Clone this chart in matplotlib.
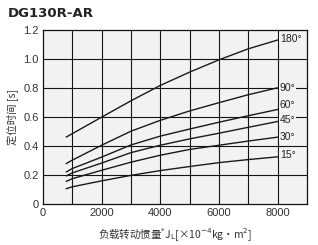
import matplotlib
matplotlib.use("Agg")
import matplotlib.pyplot as plt

plt.rcParams['font.family'] = ['Noto Sans CJK SC', 'DejaVu Sans']

x_vals = [800, 1000, 2000, 3000, 4000, 5000, 6000, 7000, 8000]
series_labels = ["180°", "90°", "60°", "45°", "30°", "15°"]
y_180 = [0.46, 0.483, 0.597, 0.71, 0.816, 0.908, 0.993, 1.069, 1.13]
y_90 = [0.277, 0.30, 0.403, 0.50, 0.575, 0.64, 0.697, 0.752, 0.80]
y_60 = [0.219, 0.242, 0.321, 0.405, 0.466, 0.515, 0.562, 0.607, 0.65]
y_45 = [0.192, 0.212, 0.28, 0.352, 0.403, 0.447, 0.486, 0.527, 0.567]
y_30 = [0.154, 0.172, 0.23, 0.286, 0.334, 0.374, 0.403, 0.432, 0.459]
y_15 = [0.103, 0.116, 0.157, 0.195, 0.228, 0.256, 0.283, 0.304, 0.323]
series = [y_180, y_90, y_60, y_45, y_30, y_15]
label_y = [1.14, 0.80, 0.68, 0.575, 0.46, 0.335]

x_ticks = [0, 2000, 4000, 6000, 8000]
y_ticks = [0, 0.2, 0.4, 0.6, 0.8, 1.0, 1.2]
y_tick_labels = ["0", "0.2", "0.4", "0.6", "0.8", "1.0", "1.2"]

narrow = ['Liberation Sans Narrow', 'Liberation Sans', 'DejaVu Sans']
bg = "#f4f1f4"
fig = plt.figure(figsize=(3.18, 2.45), dpi=100)
ax = fig.add_axes([0.135, 0.169, 0.83, 0.709])
ax.set_facecolor(bg)
ax.set_xlim(0, 9000)
ax.set_ylim(0, 1.2)

for gx in range(1000, 9000, 1000):
    ax.axvline(gx, color="#151515", lw=0.8, zorder=1)
for gy in y_ticks[1:-1]:
    ax.axhline(gy, color="#151515", lw=0.8, zorder=1)

for ys in series:
    ax.plot(x_vals, ys, color="#1a1a1a", lw=1.0, zorder=3)

for lab, ly in zip(series_labels, label_y):
    ax.text(8080, ly, lab, fontsize=7.5, color="#222222", va="center", ha="left",
            family=narrow,
            bbox=dict(facecolor=bg, edgecolor="none", pad=0.6), zorder=4)

ax.set_xticks(x_ticks)
ax.set_xticklabels([str(t) for t in x_ticks])
ax.set_yticks(y_ticks)
ax.set_yticklabels(y_tick_labels)
ax.tick_params(length=0, labelsize=8, colors="#333333", pad=3)
for lbl in ax.get_xticklabels() + ax.get_yticklabels():
    lbl.set_family(narrow)
for sp in ax.spines.values():
    sp.set_color("#111111")
    sp.set_linewidth(0.9)

ax.set_ylabel("定位时间 [s]", fontsize=7.5, color="#333333", labelpad=4)
ax.set_xlabel("负载转动惯量$^{*}$J$_\\mathrm{L}$[×10$^{-4}$kg·m$^{2}$]", fontsize=7.5,
              color="#333333", labelpad=6)

fig.text(0.025, 0.943, "DG130R-AR", fontsize=9.5, fontweight="bold", color="#222222",
         family=['DejaVu Sans'], va="center")

fig.savefig("out.png", dpi=100, facecolor="white")
